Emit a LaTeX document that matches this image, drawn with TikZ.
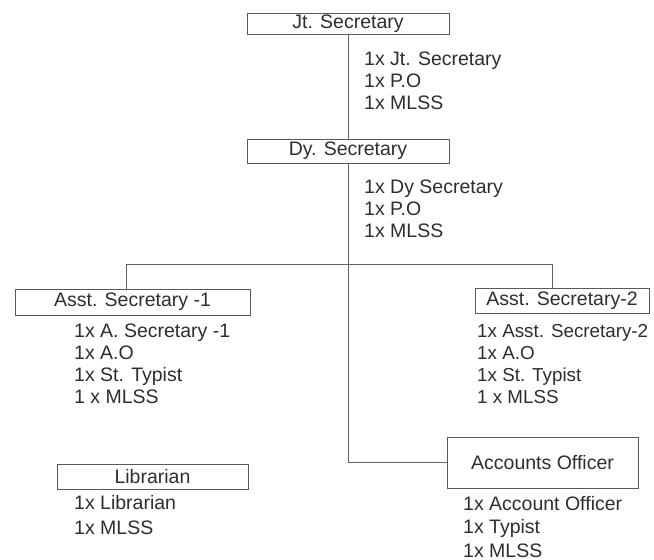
\documentclass[tikz,border=0pt]{standalone}
\usepackage{fontspec}
\setmainfont{Liberation Sans}
\begin{document}
\begin{tikzpicture}[x=1pt,y=-1pt,
  every node/.style={text=black!82, font=\fontsize{19.5}{22}\selectfont},
  post/.style={draw=black!65, line width=0.9pt, fill=white, inner sep=0pt,
               minimum width=#1},
  post/.default=200pt,
  staff/.style={anchor=base west, inner sep=0pt},
  narrowstaff/.style={staff, font=\fontsize{18.8}{22}\selectfont},
  link/.style={draw=black!62, line width=0.9pt}]
\useasboundingbox (0,0) rectangle (654,560);
\fill[white] (0,0) rectangle (654,560);

% posts
\node[post=202pt, minimum height=21pt] (jt)  at (348,23.5)  {Jt. Secretary};
\node[post=202pt, minimum height=24pt] (dy)  at (348,151)   {Dy. Secretary};
\node[post=235pt, minimum height=26pt] (as1) at (132.5,302) {Asst. Secretary -1};
\node[post=174pt, minimum height=25pt] (as2) at (562,300.5) {Asst. Secretary-2};
\node[post=191pt, minimum height=25pt] (lib) at (152.5,476.5) {Librarian};
\node[post=191pt, minimum height=51pt] (acc) at (542.5,462.5) {Accounts Officer};

% staff lists
\node[staff] (jt1) at (364,65)  {1x Jt. Secretary};
\node[staff] (jt2) at (364,87)  {1x P.O};
\node[staff] (jt3) at (364,109) {1x MLSS};

\node[staff] (dy1) at (364,193) {1x Dy Secretary};
\node[staff] (dy2) at (364,215) {1x P.O};
\node[staff] (dy3) at (364,237) {1x MLSS};

\node[staff] (a11) at (74,337) {1x A. Secretary -1};
\node[staff] (a12) at (74,359) {1x A.O};
\node[staff] (a13) at (74,381) {1x St. Typist};
\node[staff] (a14) at (74,403) {1 x MLSS};

\node[narrowstaff] (a21) at (477,337) {1x Asst. Secretary-2};
\node[narrowstaff] (a22) at (477,359) {1x A.O};
\node[narrowstaff] (a23) at (477,381) {1x St. Typist};
\node[narrowstaff] (a24) at (477,403) {1 x MLSS};

\node[staff] (l1) at (74,509) {1x Librarian};
\node[staff] (l2) at (74,534) {1x MLSS};

\node[staff] (ac1) at (463,510) {1x Account Officer};
\node[staff] (ac2) at (463,533) {1x Typist};
\node[staff] (ac3) at (463,557) {1x MLSS};

% connectors
\coordinate (busL) at (126,264);
\coordinate (busR) at (552,264);
\draw[link] (jt.south) -- (dy.north);
\draw[link] (dy.south) |- (acc.west);
\draw[link] (busL) -- (busR);
\draw[link] (busL) -- (busL |- as1.north);
\draw[link] (busR) -- (busR |- as2.north);
\end{tikzpicture}
\end{document}
